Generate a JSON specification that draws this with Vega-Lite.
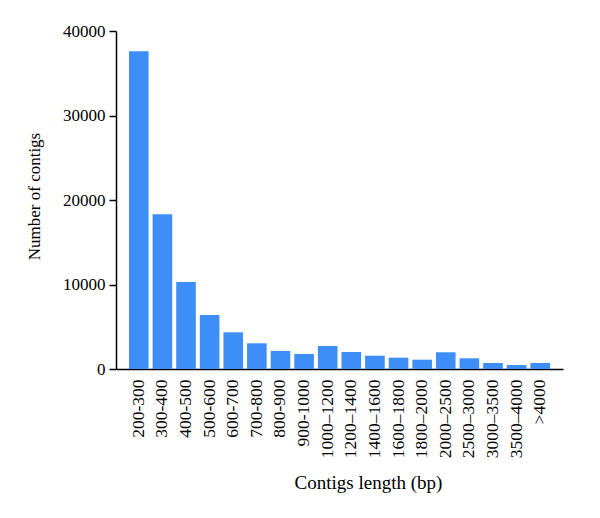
{
  "$schema": "https://vega.github.io/schema/vega-lite/v6.json",
  "width": 447,
  "height": 338,
  "autosize": {"type": "none"},
  "padding": {"left": 116, "top": 31, "right": 37, "bottom": 149},
  "background": "white",
  "data": {"values": [
    {"range": "200-300", "count": 37600},
    {"range": "300-400", "count": 18300},
    {"range": "400-500", "count": 10300},
    {"range": "500-600", "count": 6390},
    {"range": "600-700", "count": 4340},
    {"range": "700-800", "count": 3040},
    {"range": "800-900", "count": 2130},
    {"range": "900-1000", "count": 1775},
    {"range": "1000–1200", "count": 2720},
    {"range": "1200–1400", "count": 2010},
    {"range": "1400–1600", "count": 1575},
    {"range": "1600–1800", "count": 1340},
    {"range": "1800–2000", "count": 1100},
    {"range": "2000–2500", "count": 1980},
    {"range": "2500–3000", "count": 1265},
    {"range": "3000–3500", "count": 710},
    {"range": "3500–4000", "count": 470},
    {"range": ">4000", "count": 710}
  ]},
  "mark": {"type": "bar", "color": "#3d8ef7"},
  "encoding": {
    "x": {
      "field": "range", "type": "nominal", "sort": null,
      "scale": {"paddingInner": 0.17, "paddingOuter": 0.55},
      "axis": {
        "title": "Contigs length (bp)",
        "labelAngle": -90,
        "labelFont": "Liberation Serif", "labelFontSize": 17.5, "labelColor": "#000",
        "labelPadding": 10,
        "ticks": false,
        "domainColor": "#000", "domainWidth": 1.5,
        "titleFont": "Liberation Serif", "titleFontSize": 19, "titleFontWeight": "normal", "titleColor": "#000",
        "titlePadding": 16,
        "titleX": 252
      }
    },
    "y": {
      "field": "count", "type": "quantitative",
      "scale": {"domain": [0, 40000]},
      "axis": {
        "title": "Number of contigs",
        "values": [0, 10000, 20000, 30000, 40000],
        "format": "d",
        "grid": false,
        "labelFont": "Liberation Serif", "labelFontSize": 17, "labelColor": "#000",
        "labelPadding": 4,
        "tickColor": "#000", "tickSize": 7, "tickWidth": 1.5,
        "domainColor": "#000", "domainWidth": 1.5,
        "titleFont": "Liberation Serif", "titleFontSize": 17, "titleFontWeight": "normal", "titleColor": "#000",
        "titlePadding": 19,
        "titleY": 165
      }
    }
  },
  "config": {"view": {"stroke": null}}
}
